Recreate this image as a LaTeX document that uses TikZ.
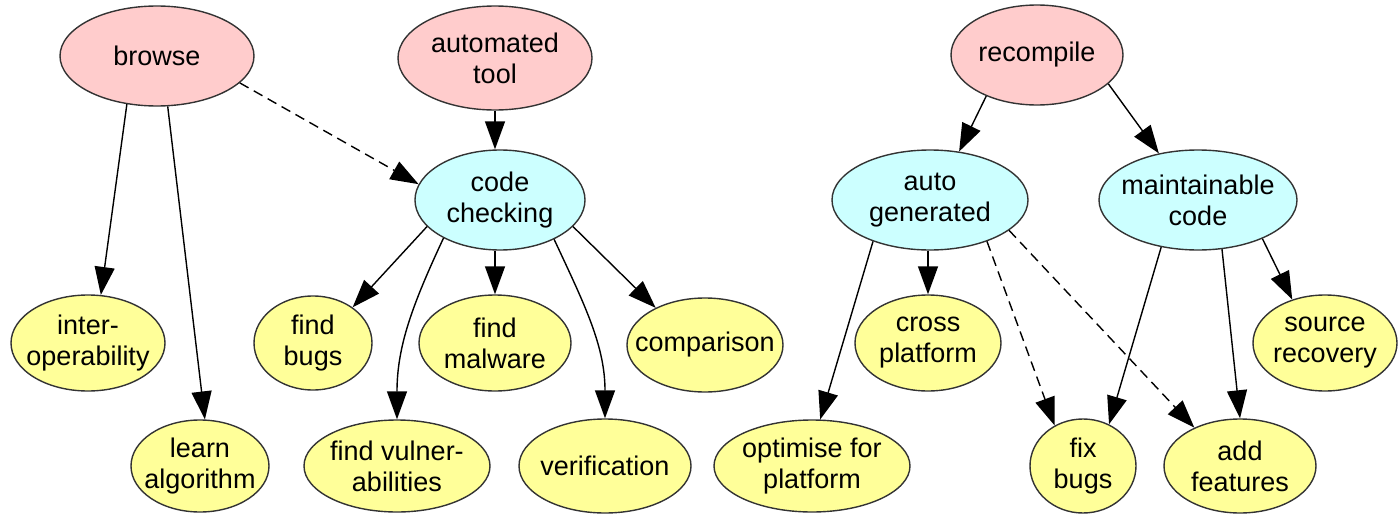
\documentclass[tikz,border=0pt]{standalone}
\usepackage{fontspec}
\setmainfont{Liberation Sans}
\usetikzlibrary{shapes.geometric,arrows.meta}

\definecolor{pinkfill}{RGB}{255,204,204}
\definecolor{cyanfill}{RGB}{204,255,255}
\definecolor{yellowfill}{RGB}{255,255,153}

\tikzset{
  ell/.style 2 args={ellipse, draw=black!80, line width=0.7pt, inner sep=-8pt,
    minimum width=#1pt, minimum height=#2pt, align=center,
    font=\fontsize{13.5}{15.5}\selectfont},
  root/.style={fill=pinkfill},
  mid/.style={fill=cyanfill},
  leaf/.style={fill=yellowfill},
  edge/.style={line width=0.7pt, -{Triangle[length=14pt,width=10pt]}},
  dedge/.style={edge, dash pattern=on 5pt off 3pt}
}

\begin{document}
\begin{tikzpicture}[x=0.5pt,y=-0.5pt]
  \useasboundingbox (0,0) rectangle (1399,514);
  % top row
  \node[ell={97}{50},root] (browse) at (157,56) {browse};
  \node[ell={97}{52},root] (tool) at (495,58) {automated\\tool};
  \node[ell={86}{50},root] (recomp) at (1037,55) {recompile};
  % middle row
  \node[ell={85}{50},mid] (check) at (500,200) {code\\checking};
  \node[ell={98}{50},mid] (autogen) at (930,200) {auto\\generated};
  \node[ell={99}{50},mid] (maint) at (1198,200) {maintainable\\code};
  % leaves
  \node[ell={77}{48},leaf] (interop) at (88,343) {inter-\\operability};
  \node[ell={69}{46},leaf] (learn) at (200,466) {learn\\algorithm};
  \node[ell={59}{47},leaf] (findbugs) at (313,343) {find\\bugs};
  \node[ell={76}{48},leaf] (malware) at (495,343) {find\\malware};
  \node[ell={78}{47},leaf] (compare) at (705,345) {comparison};
  \node[ell={93}{46},leaf] (vuln) at (397,466) {find vulner-\\abilities};
  \node[ell={86}{47},leaf] (verif) at (605,466) {verification};
  \node[ell={98}{46},leaf] (optim) at (812,466) {optimise for\\platform};
  \node[ell={73}{48},leaf] (cross) at (928,343) {cross\\platform};
  \node[ell={53}{47},leaf] (fixbugs) at (1083,466) {fix\\bugs};
  \node[ell={76}{47},leaf] (addfeat) at (1240,466) {add\\features};
  \node[ell={72}{48},leaf] (source) at (1325,343) {source\\recovery};

  \draw[edge] (browse.238) -- (interop.75);
  \draw[edge] (browse.282) -- (learn.84);
  \draw[dedge] (browse.342) -- (check.169);
  \draw[edge] (tool.south) -- (tool.south |- check.north);
  \draw[edge] (check.200) -- (findbugs.42);
  \draw[edge] (check.214) to[out=245,in=90] (vuln.north);
  \draw[edge] (check.south -| malware.north) -- (malware.north);
  \draw[edge] (check.324) to[out=-65,in=90] (verif.north);
  \draw[edge] (check.340) -- (compare.143);
  \draw[edge] (recomp.219) -- (autogen.59);
  \draw[edge] (recomp.338) -- (maint.130);
  \draw[edge] (autogen.216) -- (optim.80);
  \draw[edge] (autogen.south -| cross.north) -- (cross.north);
  \draw[dedge] (autogen.324) -- (fixbugs.125);
  \draw[dedge] (autogen.339) -- (addfeat.140);
  \draw[edge] (maint.232) -- (fixbugs.58);
  \draw[edge] (maint.296) -- (addfeat.north);
  \draw[edge] (maint.329) -- (source.127);
\end{tikzpicture}
\end{document}
